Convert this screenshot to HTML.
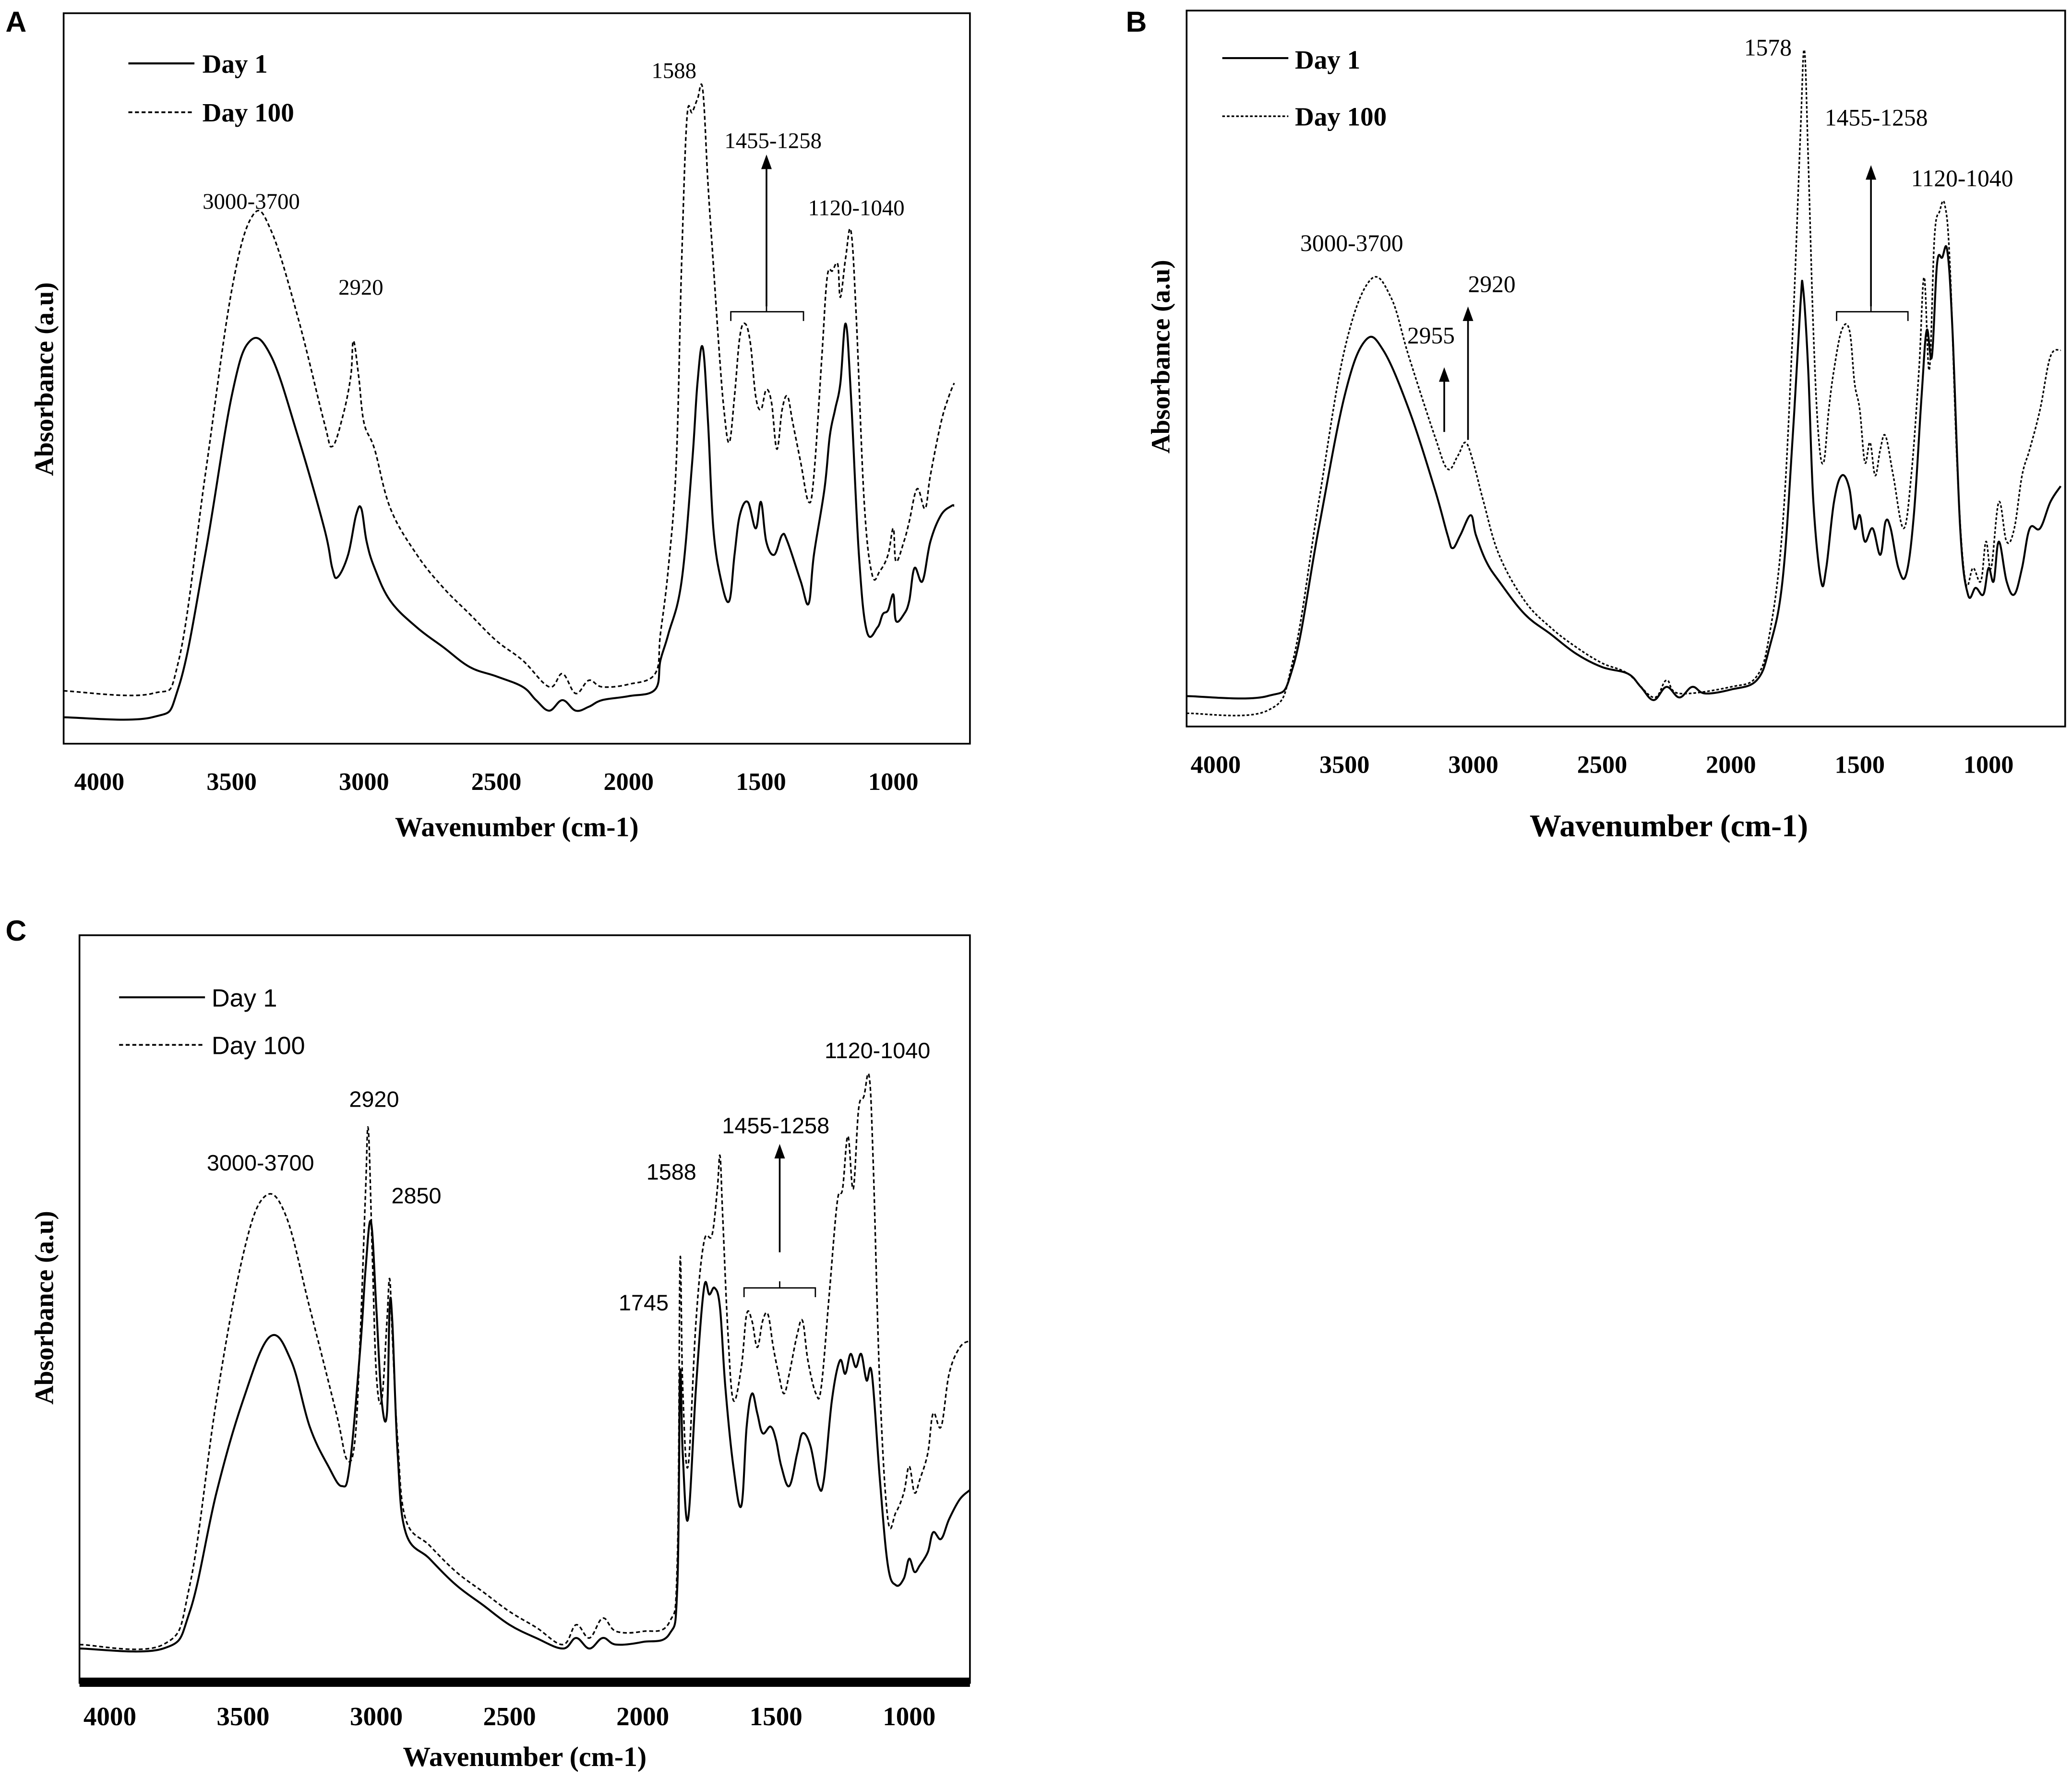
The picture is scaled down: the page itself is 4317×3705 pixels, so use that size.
<!DOCTYPE html>
<html><head><meta charset="utf-8"><style>
html,body{margin:0;padding:0;background:#fff}
svg{display:block}
text{fill:#000}
.serif{font-family:"Liberation Serif",serif}
.sans{font-family:"Liberation Sans",sans-serif}
</style></head><body>
<svg id="fig" width="4317" height="3705" viewBox="0 0 1568 1346" xmlns="http://www.w3.org/2000/svg">
<rect width="1568" height="1346" fill="#fff"/>
<text class="sans" x="4" y="24" font-size="22" font-weight="bold">A</text>
<text class="sans" x="852" y="24" font-size="22" font-weight="bold">B</text>
<text class="sans" x="4" y="712" font-size="22" font-weight="bold">C</text>

<g id="panelA">
<rect x="48" y="10" width="686" height="553" fill="none" stroke="#000" stroke-width="1.3"/>
<line x1="97" y1="48" x2="147" y2="48" stroke="#000" stroke-width="1.5"/>
<text class="serif" x="153" y="55" font-size="20" font-weight="bold">Day 1</text>
<line x1="97" y1="85" x2="147" y2="85" stroke="#000" stroke-width="1.3" stroke-dasharray="3,2"/>
<text class="serif" x="153" y="92" font-size="20" font-weight="bold">Day 100</text>
<g class="serif" font-size="17" text-anchor="middle">
<text x="190" y="158">3000-3700</text>
<text x="273" y="223">2920</text>
<text x="510" y="59">1588</text>
<text x="585" y="112">1455-1258</text>
<text x="648" y="163">1120-1040</text>
</g>
<line x1="580" y1="232" x2="580" y2="126" stroke="#000" stroke-width="1.3"/>
<polygon points="580,117 576,128 584,128" fill="#000"/>
<path d="M553,243 V236 H608 V243 M580,236 V232" fill="none" stroke="#000" stroke-width="1"/>
<text class="serif" x="391" y="633" font-size="21" font-weight="bold" text-anchor="middle">Wavenumber (cm-1)</text>
<text class="serif" transform="translate(40,287) rotate(-90)" font-size="20" font-weight="bold" text-anchor="middle">Absorbance (a.u)</text>
</g>

<g id="panelB">
<rect x="898" y="8" width="665" height="542" fill="none" stroke="#000" stroke-width="1.3"/>
<line x1="925" y1="44" x2="975" y2="44" stroke="#000" stroke-width="1.5"/>
<text class="serif" x="980" y="52" font-size="20" font-weight="bold">Day 1</text>
<line x1="925" y1="88" x2="975" y2="88" stroke="#000" stroke-width="1.3" stroke-dasharray="2,1.5"/>
<text class="serif" x="980" y="95" font-size="20" font-weight="bold">Day 100</text>
<g class="serif" font-size="18" text-anchor="middle">
<text x="1338" y="42">1578</text>
<text x="1420" y="95">1455-1258</text>
<text x="1485" y="141">1120-1040</text>
<text x="1023" y="190">3000-3700</text>
<text x="1083" y="260">2955</text>
<text x="1129" y="221">2920</text>
</g>
<line x1="1093" y1="327" x2="1093" y2="287" stroke="#000" stroke-width="1.3"/>
<polygon points="1093,278 1089,289 1097,289" fill="#000"/>
<line x1="1111" y1="333" x2="1111" y2="241" stroke="#000" stroke-width="1.3"/>
<polygon points="1111,232 1107,243 1115,243" fill="#000"/>
<line x1="1416" y1="232" x2="1416" y2="134" stroke="#000" stroke-width="1.3"/>
<polygon points="1416,125 1412,136 1420,136" fill="#000"/>
<path d="M1390,243 V236 H1444 V243 M1416,236 V232" fill="none" stroke="#000" stroke-width="1"/>
<text class="serif" x="1263" y="633" font-size="24" font-weight="bold" text-anchor="middle">Wavenumber (cm-1)</text>
<text class="serif" transform="translate(885,270) rotate(-90)" font-size="20" font-weight="bold" text-anchor="middle">Absorbance  (a.u)</text>
</g>

<g id="panelC">
<rect x="60" y="708" width="674" height="566" fill="none" stroke="#000" stroke-width="1.3"/>
<rect x="60" y="1270" width="674" height="7" fill="#000"/>
<line x1="90" y1="755" x2="155" y2="755" stroke="#000" stroke-width="1.5"/>
<text class="sans" x="160" y="762" font-size="19">Day 1</text>
<line x1="90" y1="791" x2="155" y2="791" stroke="#000" stroke-width="1.3" stroke-dasharray="3,2"/>
<text class="sans" x="160" y="798" font-size="19">Day 100</text>
<g class="sans" font-size="17" text-anchor="middle">
<text x="283" y="838">2920</text>
<text x="197" y="886">3000-3700</text>
<text x="315" y="911">2850</text>
<text x="508" y="893">1588</text>
<text x="587" y="858">1455-1258</text>
<text x="664" y="801">1120-1040</text>
<text x="487" y="992">1745</text>
</g>
<line x1="590" y1="948" x2="590" y2="875" stroke="#000" stroke-width="1.3"/>
<polygon points="590,866 586,877 594,877" fill="#000"/>
<path d="M563,982 V975 H617 V982 M590,975 V970" fill="none" stroke="#000" stroke-width="1"/>
<text class="serif" x="397" y="1337" font-size="21" font-weight="bold" text-anchor="middle">Wavenumber (cm-1)</text>
<text class="serif" transform="translate(40,990) rotate(-90)" font-size="20" font-weight="bold" text-anchor="middle">Absorbance (a.u)</text>
</g>
<g id="dyn"></g>
</svg>
<script>
const xTicks = [4000, 3500, 3000, 2500, 2000, 1500, 1000];
const xTickLabels = ["4000", "3500", "3000", "2500", "2000", "1500", "1000"];

const aWn1 = [4135,3800,3700,3600,3500,3430,3350,3250,3150,3120,3100,3060,3030,3010,2990,2960,2900,2800,2700,2600,2500,2400,2350,2300,2250,2200,2150,2100,2000,1900,1880,1850,1800,1760,1740,1720,1700,1680,1650,1620,1600,1580,1550,1520,1500,1480,1450,1420,1400,1350,1320,1300,1260,1240,1220,1200,1180,1160,1130,1100,1060,1040,1020,1000,990,960,940,920,890,860,820,780,770];
const aDay1 = [20,20,43,143,263,305,293,233,163,133,126,143,173,178,153,133,108,88,73,58,51,43,33,25,33,25,28,33,36,41,63,83,123,213,273,300,243,163,123,108,143,173,183,163,183,153,143,158,153,123,106,143,193,233,253,273,318,263,143,85,88,98,101,113,93,98,108,133,123,153,173,180,180];
const aWn100 = [4135,3800,3700,3600,3500,3420,3350,3250,3150,3120,3080,3050,3040,3020,3000,2960,2900,2800,2700,2600,2500,2400,2300,2250,2200,2150,2100,2000,1900,1880,1850,1820,1800,1780,1760,1740,1720,1700,1680,1660,1640,1620,1600,1580,1560,1540,1520,1500,1480,1460,1440,1420,1400,1380,1350,1320,1300,1270,1250,1230,1210,1200,1180,1160,1140,1110,1080,1050,1020,1000,990,960,940,910,880,860,820,790,770];
const aDay100 = [40,38,63,203,343,400,388,323,243,225,248,278,305,278,243,223,178,143,118,98,78,63,43,53,38,48,43,45,53,83,133,213,363,473,478,488,495,423,363,303,253,228,263,308,318,303,263,253,268,258,223,253,263,243,213,183,203,293,353,358,363,338,368,388,323,183,128,131,143,163,138,153,168,193,178,203,243,263,273];

const bWn1 = [4113,3800,3700,3600,3500,3420,3350,3250,3150,3100,3080,3050,3010,2990,2950,2900,2800,2700,2600,2500,2400,2350,2300,2250,2200,2150,2100,2000,1900,1850,1800,1760,1730,1720,1700,1680,1650,1630,1600,1570,1540,1520,1500,1480,1450,1420,1400,1380,1350,1320,1290,1260,1240,1220,1200,1180,1160,1140,1110,1080,1050,1020,1000,980,960,930,900,870,840,800,760,720];
const bDay1 = [23,23,45,150,250,292,285,240,180,145,135,145,160,145,125,110,85,70,55,45,40,30,20,30,22,30,25,28,35,60,110,220,320,332,270,170,110,120,170,190,180,150,160,140,150,130,155,150,120,115,160,250,300,280,350,355,360,300,150,100,105,100,120,110,140,110,100,120,150,150,170,182];
const bWn100 = [4113,3800,3700,3600,3500,3400,3320,3250,3150,3100,3060,3030,3000,2960,2900,2800,2700,2600,2500,2400,2300,2250,2200,2000,1900,1850,1800,1760,1730,1715,1700,1680,1660,1640,1620,1600,1570,1540,1520,1500,1480,1460,1440,1420,1400,1370,1330,1300,1270,1250,1230,1210,1190,1170,1150,1120,1090,1060,1030,1010,990,960,930,900,870,840,800,760,720];
const bDay100 = [10,12,50,170,285,338,325,280,220,195,205,215,200,170,130,95,75,60,48,40,22,35,25,30,38,70,150,300,450,512,430,300,220,200,240,270,300,300,260,240,200,215,190,210,220,190,150,190,270,340,270,370,390,395,350,190,110,120,110,140,120,170,140,150,190,210,240,280,285];

const cWn1 = [4114,3800,3700,3600,3500,3400,3320,3250,3180,3130,3100,3060,3040,3020,3000,2980,2960,2950,2940,2920,2890,2800,2700,2600,2500,2400,2300,2250,2200,2150,2100,2000,1900,1870,1860,1850,1830,1800,1770,1750,1730,1710,1690,1660,1630,1610,1590,1570,1550,1520,1500,1480,1450,1420,1400,1370,1340,1320,1290,1260,1240,1220,1200,1180,1160,1140,1110,1080,1050,1020,1000,980,960,930,910,880,850,810,772];
const cDay1 = [27,27,55,145,215,263,245,195,165,150,165,255,315,350,285,215,205,285,275,175,115,95,75,60,45,35,27,35,27,35,30,32,38,75,235,175,125,225,300,295,300,285,225,165,135,195,220,205,190,195,185,165,150,175,190,180,150,155,215,245,235,250,240,250,230,235,155,90,75,80,95,85,90,100,115,110,125,140,147];
const cWn100 = [4114,3800,3700,3600,3500,3420,3340,3250,3150,3110,3080,3060,3040,3030,3015,3000,2980,2960,2950,2940,2920,2890,2800,2700,2600,2500,2400,2300,2250,2200,2150,2100,2000,1900,1870,1860,1850,1830,1800,1770,1740,1720,1710,1700,1680,1660,1630,1610,1590,1570,1550,1530,1510,1490,1470,1450,1420,1400,1380,1350,1330,1300,1270,1250,1230,1210,1190,1170,1150,1135,1110,1080,1050,1020,1000,980,960,930,910,880,850,810,772];
const cDay100 = [30,30,75,215,325,369,355,285,205,170,185,265,375,420,325,235,215,275,307,265,185,125,105,85,70,55,43,30,45,35,50,40,40,47,95,320,225,165,275,335,340,375,400,355,265,215,240,280,275,255,275,280,255,235,220,235,265,275,245,220,225,295,365,375,415,375,435,445,460,395,225,125,130,145,165,145,155,175,205,195,235,255,260];

const NS = "http://www.w3.org/2000/svg";
const dyn = document.getElementById("dyn");

function makeX(wnA, pxA, wnB, pxB){ return w => pxA + (wnA - w) / (wnA - wnB) * (pxB - pxA); }
function makeY(bottom, height, maxV){ return v => bottom - v / maxV * height; }

function drawSeries(wn, vals, sx, sy, dash, name){
  const n = Math.min(wn.length, vals.length);
  const pts = [];
  for (let i = 0; i < n; i++) pts.push([sx(wn[i]), sy(vals[i])]);
  let d = "M" + pts[0][0].toFixed(2) + "," + pts[0][1].toFixed(2);
  const k = 0.18;
  for (let i = 0; i < n - 1; i++){
    const p0 = pts[Math.max(0, i - 1)], p1 = pts[i], p2 = pts[i + 1], p3 = pts[Math.min(n - 1, i + 2)];
    const c1x = p1[0] + (p2[0] - p0[0]) * k, c1y = p1[1] + (p2[1] - p0[1]) * k;
    const c2x = p2[0] - (p3[0] - p1[0]) * k, c2y = p2[1] - (p3[1] - p1[1]) * k;
    d += "C" + c1x.toFixed(2) + "," + c1y.toFixed(2) + " " + c2x.toFixed(2) + "," + c2y.toFixed(2) + " " + p2[0].toFixed(2) + "," + p2[1].toFixed(2);
  }
  const p = document.createElementNS(NS, "path");
  p.setAttribute("d", d);
  p.setAttribute("fill", "none");
  p.setAttribute("stroke", "#000");
  p.setAttribute("stroke-width", dash ? "1.2" : "1.5");
  p.setAttribute("stroke-linejoin", "round");
  if (dash) p.setAttribute("stroke-dasharray", dash);
  
  
  dyn.appendChild(p);
}

function drawTicks(sx, y, size, panel){
  for (let i = 0; i < xTicks.length; i++){
    const t = document.createElementNS(NS, "text");
    t.setAttribute("x", sx(xTicks[i]).toFixed(2));
    t.setAttribute("y", y);
    t.setAttribute("text-anchor", "middle");
    t.setAttribute("font-size", size);
    t.setAttribute("font-weight", "bold");
    t.setAttribute("class", "serif");
    t.textContent = xTickLabels[i];
    
    
    dyn.appendChild(t);
  }
}

const xA = makeX(4000, 75, 1000, 676), yA = makeY(563, 553, 553);
drawSeries(aWn1, aDay1, xA, yA, null, "series-day1-a");
drawSeries(aWn100, aDay100, xA, yA, "3,2", "series-day100-a");
drawTicks(xA, 598, 19, "a");
const xB = makeX(4000, 920, 1000, 1505), yB = makeY(550, 542, 542);
drawSeries(bWn1, bDay1, xB, yB, null, "series-day1-b");
drawSeries(bWn100, bDay100, xB, yB, "2,1.5", "series-day100-b");
drawTicks(xB, 585, 19, "b");
const xC = makeX(4000, 83, 1000, 688), yC = makeY(1275, 567, 567);
drawSeries(cWn1, cDay1, xC, yC, null, "series-day1-c");
drawSeries(cWn100, cDay100, xC, yC, "3,2", "series-day100-c");
drawTicks(xC, 1306, 20, "c");
</script>
</body></html>
